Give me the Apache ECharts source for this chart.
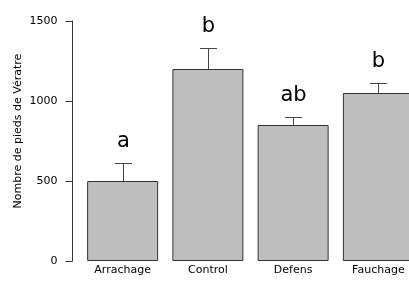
<!DOCTYPE html>
<html>
<head>
    <meta charset="utf-8">
    <style>
        html, body { margin: 0; padding: 0; background: #fff; }
    </style>
</head>
<body>
    <div id="main" style="width: 409px;height:291px;"></div>
    <script src="https://cdn.jsdelivr.net/npm/echarts@6/dist/echarts.min.js"></script>
    <script type="text/javascript">
        // traitements et moyennes
        var categories = ['Arrachage', 'Control', 'Defens', 'Fauchage'];
        var means = [500, 1200, 850, 1050];
        var errors = [110, 130, 50, 60];
        var letters = ['a', 'b', 'ab', 'b'];
        var yTicks = [0, 500, 1000, 1500];

        var myChart = echarts.init(document.getElementById('main'));

        var errData = [];
        for (var i = 0; i < categories.length; i++) {
            errData.push([i, means[i], means[i] + errors[i], letters[i]]);
        }

        var font = 'DejaVu Sans';

        option = {
            animation: false,
            grid: {
                left: 80,
                top: 21,
                width: 341,
                height: 240,
                outerBoundsMode: 'none',
                containLabel: false
            },
            xAxis: {
                type: 'category',
                data: categories,
                axisLine: { show: false },
                axisTick: { show: false },
                axisLabel: {
                    margin: 4,
                    fontFamily: font,
                    fontSize: 11,
                    color: '#000'
                }
            },
            yAxis: {
                type: 'value',
                min: yTicks[0],
                max: yTicks[yTicks.length - 1],
                interval: 500,
                offset: 7.5,
                splitLine: { show: false },
                axisLine: { show: true, lineStyle: { color: '#333', width: 1 } },
                axisTick: { show: true, length: 7, lineStyle: { color: '#333' } },
                axisLabel: {
                    margin: 15,
                    fontFamily: font,
                    fontSize: 11,
                    color: '#000',
                    formatter: function (v) { return String(v); }
                }
            },
            graphic: [{
                type: 'text',
                x: 18,
                y: 131,
                rotation: Math.PI / 2,
                style: {
                    text: 'Nombre de pieds de Vératre',
                    font: '11px "DejaVu Sans"',
                    fill: '#000',
                    align: 'center',
                    verticalAlign: 'middle'
                }
            }],
            series: [{
                type: 'bar',
                data: means,
                barWidth: 71,
                itemStyle: {
                    color: '#bebebe',
                    borderColor: '#333',
                    borderWidth: 1
                }
            }, {
                type: 'custom',
                data: errData,
                z: 5,
                renderItem: function (params, api) {
                    var base = api.coord([api.value(0), api.value(1)]);
                    var top = api.coord([api.value(0), api.value(2)]);
                    var x = Math.round(base[0]) + 0.5;
                    var yt = Math.round(top[1]) + 0.5;
                    var cap = 8.5;
                    return {
                        type: 'group',
                        children: [{
                            type: 'line',
                            shape: { x1: x, y1: base[1], x2: x, y2: yt },
                            style: { stroke: '#444', lineWidth: 1 }
                        }, {
                            type: 'line',
                            shape: { x1: x - cap, y1: yt, x2: x + cap, y2: yt },
                            style: { stroke: '#444', lineWidth: 1 }
                        }, {
                            type: 'text',
                            x: x,
                            y: yt - 11,
                            style: {
                                text: letters[params.dataIndex],
                                font: '21px "DejaVu Sans"',
                                fill: '#000',
                                align: 'center',
                                verticalAlign: 'bottom'
                            }
                        }]
                    };
                }
            }]
        };

        myChart.setOption(option);
    </script>
</body>
</html>
